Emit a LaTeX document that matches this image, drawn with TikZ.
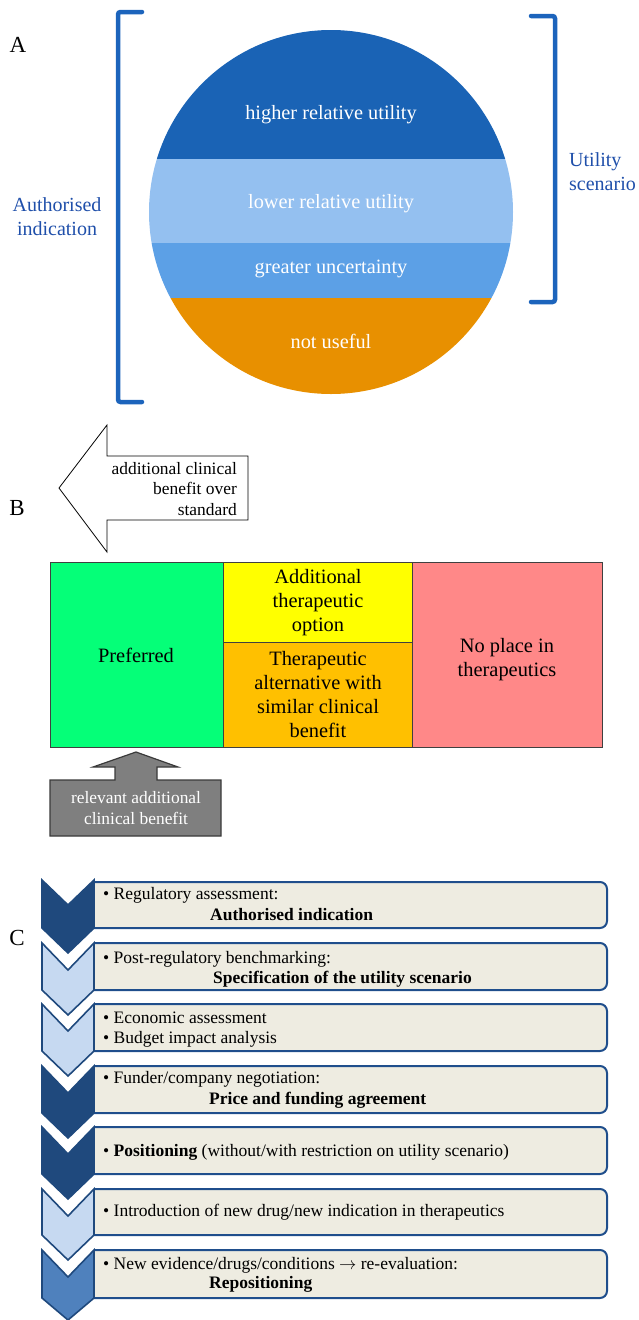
\documentclass[tikz,border=0pt]{standalone}
\usepackage{fontspec}
\setmainfont{Liberation Serif}
\definecolor{dkblue}{HTML}{1A63B5}
\definecolor{ltblue}{HTML}{94C0F0}
\definecolor{mdblue}{HTML}{5CA0E6}
\definecolor{orng}{HTML}{E89000}
\definecolor{lblblue}{HTML}{1F4FAA}
\definecolor{brblue}{HTML}{1C64BC}
\definecolor{tgreen}{HTML}{05FF78}
\definecolor{tyellow}{HTML}{FFFF00}
\definecolor{torange}{HTML}{FFC000}
\definecolor{tpink}{HTML}{FF8888}
\definecolor{tborder}{HTML}{404040}
\definecolor{grayfill}{HTML}{7F7F7F}
\definecolor{grayline}{HTML}{3A3A3A}
\definecolor{chdark}{HTML}{1F497D}
\definecolor{chlight}{HTML}{C6D9F1}
\definecolor{chmid}{HTML}{4F81BD}
\definecolor{boxfill}{HTML}{EEECE1}
\definecolor{boxline}{HTML}{1F4E8C}
\begin{document}
\begin{tikzpicture}[x=1pt,y=-1pt,
  ctext/.style={text=white,font=\fontsize{20.3}{24}\selectfont,inner sep=0pt},
  sidelbl/.style={text=lblblue,font=\fontsize{20}{24}\selectfont,inner sep=0pt},
  panellbl/.style={font=\fontsize{23}{26}\selectfont,inner sep=0pt},
  bracketline/.style={draw=brblue,line width=4.5pt,rounded corners=2.5pt,line cap=round},
  celltext/.style={font=\fontsize{20.4}{24}\selectfont,align=center,inner sep=0pt},
  tcell/.style={draw=tborder,line width=0.9pt},
  arrtext/.style={font=\fontsize{17.4}{20.5}\selectfont,inner sep=0pt},
  stepbox/.style={draw=boxline,fill=boxfill,line width=2pt,rounded corners=7pt},
  chev/.style={draw=chdark,line width=1.6pt,line join=miter},
  steptext/.style={font=\fontsize{17.5}{21}\selectfont,anchor=base west,inner sep=0pt},
]
\useasboundingbox (0,0) rectangle (639,1320);

% ---------------- Panel A ----------------
\node[panellbl] (pA) at (18,45) {A};
\begin{scope}
  \clip (331,212) circle (182pt);
  \fill[dkblue] (140,20) rectangle (530,159);
  \fill[ltblue] (140,159) rectangle (530,243);
  \fill[mdblue] (140,243) rectangle (530,298);
  \fill[orng] (140,298) rectangle (530,400);
\end{scope}
\node[ctext] (hru) at (331,115) {higher relative utility};
\node[ctext] (lru) at (331,204) {lower relative utility};
\node[ctext] (gu) at (331,269) {greater uncertainty};
\node[ctext] (nu) at (331,341) {not useful};

\draw[bracketline] (142,12) -- (118,12) -- (118,402) -- (142,402);
\draw[bracketline] (531,16) -- (555,16) -- (555,302) -- (531,302);
\node[sidelbl,align=center] (authlbl) at (57,217) {Authorised\\indication};
\node[sidelbl,align=left,anchor=west] (utillbl) at (569,172) {Utility\\scenario};

% ---------------- Panel B ----------------
\node[panellbl] (pB) at (17,508) {B};
\draw[black,fill=white,line width=0.8pt]
  (59,488) -- (107,425) -- (107,456) -- (248,456) -- (248,520) -- (107,520) -- (107,552) -- cycle;
\node[arrtext,align=right,anchor=east] (acb) at (237,489) {additional clinical\\benefit over\\standard};

\fill[tgreen] (50,562) rectangle (223,747);
\fill[tyellow] (223,562) rectangle (412,642);
\fill[torange] (223,642) rectangle (412,747);
\fill[tpink] (412,562) rectangle (602,747);
\draw[tcell] (50,562) rectangle (602,747);
\draw[tcell] (223,562) -- (223,747);
\draw[tcell] (412,562) -- (412,747);
\draw[tcell] (223,642) -- (412,642);
\node[celltext] (pref) at (136,655) {Preferred};
\node[celltext] (ato) at (318,603) {Additional\\therapeutic\\option};
\node[celltext] (tal) at (318,695) {Therapeutic\\alternative with\\similar clinical\\benefit};
\node[celltext] (npt) at (507,660) {No place in\\therapeutics};

\draw[fill=grayfill,draw=grayline,line width=1.2pt]
  (136,752) -- (178,767) -- (157,767) -- (157,780) -- (221,780) -- (221,836)
  -- (50,836) -- (50,780) -- (115,780) -- (115,767) -- (93,767) -- cycle;
\node[arrtext,text=white,align=center] (racb) at (136,808) {relevant additional\\clinical benefit};

% ---------------- Panel C ----------------
\node[panellbl] (pC) at (17,938) {C};
% boxes
\filldraw[stepbox] (94,882) -- (607,882) -- (607,928) -- (94,928);
\filldraw[stepbox] (94,943) -- (607,943) -- (607,990) -- (94,990);
\filldraw[stepbox] (94,1004) -- (607,1004) -- (607,1051) -- (94,1051);
\filldraw[stepbox] (94,1066) -- (607,1066) -- (607,1113) -- (94,1113);
\filldraw[stepbox] (94,1127) -- (607,1127) -- (607,1174) -- (94,1174);
\filldraw[stepbox] (94,1189) -- (607,1189) -- (607,1235) -- (94,1235);
\filldraw[stepbox] (94,1250) -- (607,1250) -- (607,1298) -- (94,1298);
% chevrons
\filldraw[chev,fill=chdark]  (42,880) -- (68,905) -- (94,880) -- (94,928) -- (68,953) -- (42,928) -- cycle;
\filldraw[chev,fill=chlight] (42,943) -- (68,970) -- (94,943) -- (94,990) -- (68,1015) -- (42,990) -- cycle;
\filldraw[chev,fill=chlight] (42,1004) -- (68,1031) -- (94,1004) -- (94,1051) -- (68,1076) -- (42,1051) -- cycle;
\filldraw[chev,fill=chdark]  (42,1066) -- (68,1093) -- (94,1066) -- (94,1113) -- (68,1138) -- (42,1113) -- cycle;
\filldraw[chev,fill=chdark]  (42,1127) -- (68,1154) -- (94,1127) -- (94,1174) -- (68,1199) -- (42,1174) -- cycle;
\filldraw[chev,fill=chlight] (42,1189) -- (68,1216) -- (94,1189) -- (94,1235) -- (68,1260) -- (42,1235) -- cycle;
\filldraw[chev,fill=chmid]   (42,1250) -- (68,1277) -- (94,1250) -- (94,1298) -- (68,1320) -- (42,1298) -- cycle;
% texts
\node[steptext] (s1a) at (103,899) {• Regulatory assessment:};
\node[steptext] (s1b) at (210,920) {\bfseries Authorised indication};
\node[steptext] (s2a) at (103,963) {• Post-regulatory benchmarking:};
\node[steptext] (s2b) at (213,983) {\bfseries Specification of the utility scenario};
\node[steptext] (s3a) at (103,1023) {• Economic assessment};
\node[steptext] (s3b) at (103,1043) {• Budget impact analysis};
\node[steptext] (s4a) at (103,1083) {• Funder/company negotiation:};
\node[steptext] (s4b) at (209,1104) {\bfseries Price and funding agreement};
\node[steptext] (s5) at (103,1156) {• \textbf{Positioning} (without/with restriction on utility scenario)};
\node[steptext] (s6) at (103,1216) {• Introduction of new drug/new indication in therapeutics};
\node[steptext] (s7a) at (103,1269) {• New evidence/drugs/conditions $\rightarrow$ re-evaluation:};
\node[steptext] (s7b) at (209,1288) {\bfseries Repositioning};
\end{tikzpicture}
\end{document}
